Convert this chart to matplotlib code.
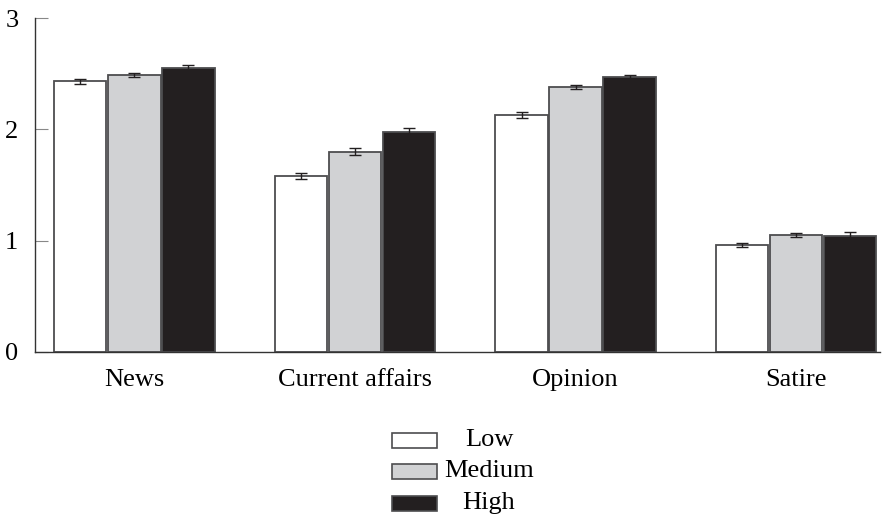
import numpy as np
import matplotlib
matplotlib.use("Agg")
import matplotlib.pyplot as plt
from matplotlib.patches import Rectangle

plt.rcParams['font.family'] = ['Liberation Serif', 'DejaVu Serif']

categories = ["News", "Current affairs", "Opinion", "Satire"]
levels = ["Low", "Medium", "High"]
low = [2.43, 1.58, 2.13, 0.96]
medium = [2.49, 1.80, 2.38, 1.05]
high = [2.55, 1.98, 2.47, 1.04]
low_err = [0.02, 0.025, 0.03, 0.02]
medium_err = [0.02, 0.03, 0.015, 0.02]
high_err = [0.025, 0.035, 0.015, 0.04]

colors = ["#ffffff", "#d1d2d4", "#231f20"]
edge = "#4d4d4f"

fig = plt.figure(figsize=(8.91, 5.22), dpi=100)
ax = fig.add_axes([0.0393, 0.3257, 0.9484, 0.6398])

x = np.arange(len(categories))
w = 0.245
offsets = [-w, 0, w]
for vals, errs, c, off in zip([low, medium, high], [low_err, medium_err, high_err], colors, offsets):
    ax.bar(x + off, vals, width=w * 0.97, color=c, edgecolor=edge, linewidth=1.3, zorder=2)
    ax.errorbar(x + off, vals, yerr=errs, fmt="none", ecolor="#231f20",
                elinewidth=1, capsize=4.5, capthick=1, zorder=3)

ax.set_xlim(-0.45, 3.38)
ax.set_ylim(0, 3)
ax.set_yticks([0, 1, 2, 3])
ax.set_xticks(x)
ax.set_xticklabels(categories)
ax.tick_params(axis="y", direction="in", length=9, width=0.8, color="#888888",
               labelsize=19, pad=12)
ax.tick_params(axis="x", length=0, labelsize=19, pad=12)
for s in ["top", "right"]:
    ax.spines[s].set_visible(False)
for s in ["left", "bottom"]:
    ax.spines[s].set_color("#333333")
    ax.spines[s].set_linewidth(1)

# legend drawn by hand so the labels sit centred beside the swatches
sw_x, sw_w, sw_h = 392, 45, 15
rows_y = [440, 471, 503]
for lab, c, yy in zip(levels, colors, rows_y):
    fig.patches.append(Rectangle((sw_x / 891, 1 - (yy + sw_h / 2) / 522), sw_w / 891, sw_h / 522,
                                 transform=fig.transFigure, facecolor=c, edgecolor=edge,
                                 linewidth=1.2))
    fig.text(489 / 891, 1 - yy / 522, lab, ha="center", va="center", fontsize=19)

fig.savefig("out.png", dpi=100)
